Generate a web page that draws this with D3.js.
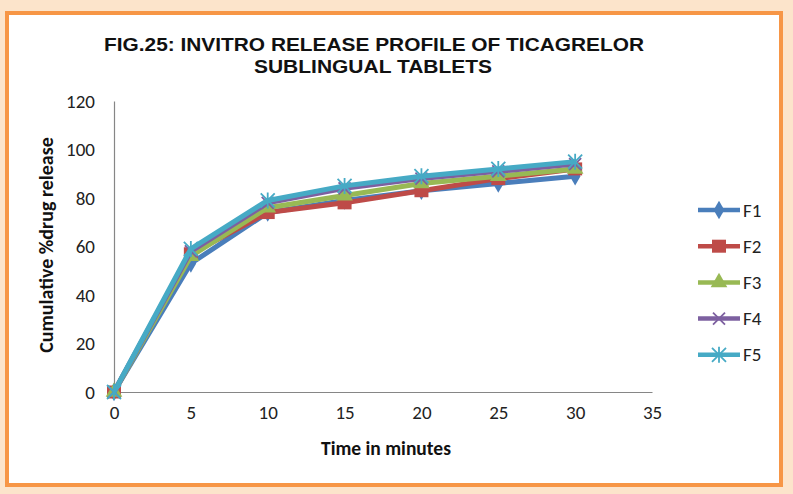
<!DOCTYPE html>
<html>
<head>
<meta charset="utf-8">
<script src="https://cdn.jsdelivr.net/npm/d3@7"></script>
<style>
  body { margin: 0; background: #fce4cb; }
  svg { display: block; }
</style>
</head>
<body>
<svg id="chart"></svg>
<script>
// data
const times = [0, 5, 10, 15, 20, 25, 30]
const f1 = [0, 53, 74, 79, 83, 86, 89]
const f2 = [0, 57, 74, 78, 83, 88, 92]
const f3 = [0, 56, 76, 81, 86, 89, 92]
const f4 = [0, 58, 78, 84, 88, 91, 94]
const f5 = [0, 59, 79, 85, 89, 92, 95]
const seriesNames = ["F1", "F2", "F3", "F4", "F5"]
const xTicks = [0, 5, 10, 15, 20, 25, 30, 35]
const yTicks = [0, 20, 40, 60, 80, 100, 120]

const colors = ["#4a7ebb", "#be4b48", "#98b954", "#7d60a0", "#46aac5"]
const markers = ["diamond", "square", "triangle", "x", "star"]
const allSeries = [f1, f2, f3, f4, f5].map((vals, i) => ({
    name: seriesNames[i],
    color: colors[i],
    marker: markers[i],
    points: vals.map((v, j) => ({ t: times[j], v: v }))
}))

const W = 793, H = 494
const svg = d3.select("#chart").attr("width", W).attr("height", H)

// frame
svg.append("rect").attr("x", 0).attr("y", 0).attr("width", W).attr("height", H).attr("fill", "#fce4cb")
svg.append("rect").attr("x", 7).attr("y", 13).attr("width", 774).attr("height", 472)
    .attr("fill", "#fff").attr("stroke", "#f79646").attr("stroke-width", 4)

// title
const title = svg.append("text").attr("text-anchor", "middle")
    .style("font-family", "'Liberation Sans', Arial, sans-serif")
    .style("font-weight", "bold").style("font-size", "19px").attr("fill", "#111")
title.append("tspan").attr("x", 374).attr("y", 51).attr("textLength", 540).attr("lengthAdjust", "spacingAndGlyphs")
    .text("FIG.25: INVITRO RELEASE PROFILE OF TICAGRELOR")
title.append("tspan").attr("x", 373).attr("y", 73).attr("textLength", 238).attr("lengthAdjust", "spacingAndGlyphs")
    .text("SUBLINGUAL TABLETS")

const x = d3.scaleLinear().domain([0, 35]).range([114, 652])
const y = d3.scaleLinear().domain([0, 120]).range([392, 101])

const font = "Carlito, Lato, 'Open Sans', sans-serif"

// axes
const xAxis = svg.append("g").attr("transform", `translate(0,${y(0)})`)
    .call(d3.axisBottom(x).tickValues(xTicks).tickSize(0).tickPadding(14))
const yAxis = svg.append("g").attr("transform", `translate(${x(0)},0)`)
    .call(d3.axisLeft(y).tickValues(yTicks).tickSize(0).tickPadding(19))
for (const ax of [xAxis, yAxis]) {
    ax.select(".domain").attr("stroke", "#868686").attr("stroke-width", 1.2)
    ax.selectAll("text").style("font-family", font).style("font-size", "19px").attr("fill", "#222")
}

svg.append("text").attr("x", 386).attr("y", 455).attr("text-anchor", "middle")
    .style("font-family", font).style("font-weight", "bold").style("font-size", "19.5px")
    .attr("fill", "#111").text("Time in minutes")
svg.append("text").attr("transform", "translate(53,245) rotate(-90)").attr("text-anchor", "middle")
    .style("font-family", font).style("font-weight", "bold").style("font-size", "20px")
    .attr("fill", "#111").text("Cumulative %drug release")

function drawMarker(g, type, color) {
    if (type === "diamond") {
        g.append("path").attr("d", d3.symbol(d3.symbolDiamond, 100)()).attr("fill", color)
    } else if (type === "square") {
        g.append("rect").attr("x", -7).attr("y", -6.5).attr("width", 14).attr("height", 13).attr("fill", color)
    } else if (type === "triangle") {
        g.append("path").attr("d", d3.symbol(d3.symbolTriangle, 120)()).attr("fill", color)
    } else if (type === "x") {
        g.append("path").attr("d", "M-6,-6L6,6M-6,6L6,-6").attr("stroke", color).attr("stroke-width", 1.8)
    } else {
        g.append("path").attr("d", "M-7,-7L7,7M-7,7L7,-7M0,-8V8").attr("stroke", color).attr("stroke-width", 1.8)
    }
}

const line = d3.line().x(d => x(d.t)).y(d => y(d.v))

allSeries.forEach(s => {
    const g = svg.append("g")
    g.append("path").datum(s.points).attr("d", line)
        .attr("fill", "none").attr("stroke", s.color).attr("stroke-width", 5)
        .attr("stroke-linejoin", "round")
    g.selectAll(".m").data(s.points).enter().append("g")
        .attr("transform", d => `translate(${x(d.t)},${y(d.v)})`)
        .each(function () { drawMarker(d3.select(this), s.marker, s.color) })
})

// legend
const leg = svg.append("g")
allSeries.forEach((s, i) => {
    const ly = 210 + i * 36.2
    const row = leg.append("g").attr("transform", `translate(0,${ly})`)
    row.append("line").attr("x1", 698).attr("x2", 740).attr("y1", 0).attr("y2", 0)
        .attr("stroke", s.color).attr("stroke-width", 4.5)
    const m = row.append("g").attr("transform", "translate(719,0)")
    drawMarker(m, s.marker, s.color)
    row.append("text").attr("x", 743).attr("y", 6.5)
        .style("font-family", font).style("font-size", "19px").attr("fill", "#222").text(s.name)
})
</script>
</body>
</html>
